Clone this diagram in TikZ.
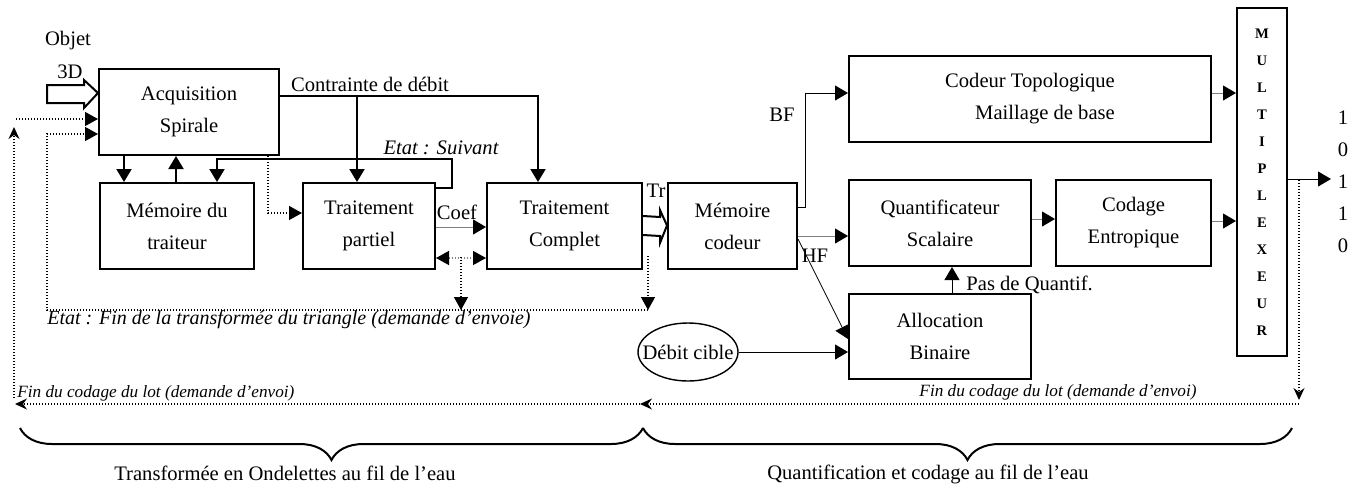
\documentclass[tikz,border=0pt]{standalone}
\usepackage{fontspec}
\setmainfont{Liberation Serif}
\usetikzlibrary{arrows.meta,shapes.geometric,decorations.pathreplacing,calc}
\begin{document}
\begin{tikzpicture}[x=0.5pt,y=-0.5pt,
  every node/.style={font=\fontsize{10.3}{16}\selectfont, inner sep=0pt},
  blk/.style={draw, line width=1pt, align=center, minimum height=43pt},
  thk/.style={line width=1pt, -{Triangle[length=6.5pt,width=7.5pt]}},
  thn/.style={line width=0.5pt, -{Triangle[length=6.5pt,width=7.5pt]}},
  gthn/.style={line width=0.5pt, draw=gray, -{Triangle[length=6.5pt,width=7.5pt,color=black]}},
  dots/.style={line width=0.7pt, dash pattern=on 0.6pt off 0.9pt},
  ttip/.style={-{Triangle[length=6.5pt,width=7pt]}},
  stip/.style={-{Stealth[length=6pt,width=5.5pt,inset=2pt]}},
  ilbl/.style={font=\fontsize{8.6}{10}\selectfont\itshape},
]
\useasboundingbox (0,0) rectangle (1362,488);

% blocks
\node[blk, minimum width=90pt] (acq) at (189,112) {Acquisition\\Spirale};
\node[blk, minimum width=77pt] (mem) at (177,226) {Mémoire du\\traiteur};
\node[blk, minimum width=66pt] (tp) at (369,226) {Traitement\\partiel};
\node[blk, minimum width=77.5pt] (tc) at (564.5,226) {Traitement\\Complet};
\node[blk, minimum width=64.5pt] (mc) at (732.5,226) {Mémoire\\codeur};
\node[blk, minimum width=181pt] (ct) at (1030,99) {Codeur Topologique\\\hspace*{15pt}Maillage de base};
\node[blk, minimum width=91pt] (qs) at (940,223) {Quantificateur\\Scalaire};
\node[blk, minimum width=77.5pt] (ce) at (1133.5,223) {Codage\\Entropique};
\node[blk, minimum width=91pt, minimum height=42.5pt] (ab) at (940,336.5) {Allocation\\Binaire};
\node[blk, minimum width=25pt, minimum height=174pt, font=\fontsize{7.3}{13.5}\selectfont\bfseries] (mux) at (1262,182) {M\\U\\L\\T\\I\\P\\L\\E\\X\\E\\U\\R};
\node[draw, ellipse, line width=0.7pt, minimum width=50pt, minimum height=29pt] (dc) at (688,352) {};
\node (dct) at (dc.center) {Débit cible};

% free labels
\node (objet) at (68,41) {Objet};
\node (d3) at (70,72) {3D};
\node (contr) at (370,84) {Contrainte de débit};
\node[font=\fontsize{10.3}{12}\selectfont\itshape] (suiv) at (441,148) {Etat : Suivant};
\node (coef) at (457,212) {Coef};
\node (tr) at (656,191) {Tr};
\node (bf) at (782,115) {BF};
\node (hf) at (815,256) {HF};
\node[anchor=west] (pq) at (966,285) {Pas de Quantif.};
\node[align=center] (bits) at (1343,182) {1\\0\\1\\1\\0};
\node[font=\fontsize{10}{12}\selectfont\itshape] (efin) at (289,320) {Etat : Fin de la transformée du triangle (demande d'envoie)};
\node[ilbl, anchor=base west] (fin1) at (17,397) {Fin du codage du lot (demande d'envoi)};
\node[ilbl] (fin2) at (1058,392) {Fin du codage du lot (demande d'envoi)};
\node (tl) at (285,473) {Transformée en Ondelettes au fil de l'eau};
\node (ql) at (928,474) {Quantification et codage au fil de l'eau};

% 3D hollow arrow
\draw[line width=1pt, line join=miter] (47,85) -- (84,85) -- (84,80) -- ($(acq.north west)+(0,25)$) -- (84,108) -- (84,103) -- (47,103) -- cycle;

% Tr hollow arrow
\draw[line width=1pt] ($(tc.north east)+(0,34)$) -- (660,217) -- (660,210) -- ($(mc.north west)+(0,43.5)$) -- (660,243) -- (660,236) -- ($(tc.north east)+(0,53)$);

% acquisition <-> memoire
\coordinate (a1) at ($(acq.south west)+(26,0)$);
\coordinate (a2) at ($(acq.south west)+(78,0)$);
\draw[thk] (a1) -- (a1 |- mem.north);
\draw[thk] (a2 |- mem.north) -- (a2);

% contrainte de debit
\coordinate (k0) at ($(acq.north east)+(0,28)$);
\coordinate (k1) at ($(tc.north west)+(52,0)$);
\coordinate (k2) at ($(tp.north west)+(55,0)$);
\draw[thk] (k0) -| (k1);
\draw[thk] (k2 |- k0) -- (k2);

% loop Etat : Suivant
\coordinate (l0) at ($(tp.north east)+(0,6)$);
\coordinate (l1) at ($(mem.north west)+(118,0)$);
\draw[thk] (l0) -- ++(16,0) -- ++(0,-29) -| (l1);

% dotted acq -> traitement partiel
\coordinate (d0) at ($(acq.south east)+(-12,0)$);
\draw[dots, ttip] (d0) |- ($(tp.north west)+(0,31)$);

% coef
\draw[gthn] ($(tp.north east)+(0,45)$) -- ($(tc.north west)+(0,45)$);
% double dotted
\draw[dots, draw=gray, {Triangle[length=6.5pt,width=7pt,color=black]}-{Triangle[length=6.5pt,width=7pt,color=black]}] ($(tp.south east)+(0,-12)$) -- ($(tc.south west)+(0,-12)$);

% dotted loop back to acquisition
\coordinate (p461) at (461,257);
\coordinate (b461) at (461,310);
\coordinate (p648) at (648,256);
\coordinate (b648) at (648,310);
\coordinate (bl) at (47,310);
\draw[dots, ttip] (p461) -- (b461);
\draw[dots, ttip] (p648) -- (b648);
\draw[dots, ttip] (b648) -- (bl) |- ($(acq.south west)+(0,-22)$);

% outer left dotted
\coordinate (f1) at (16,119);
\draw[dots, ttip] (f1) -- (f1 -| acq.west);
\coordinate (ol0) at (14,398);
\coordinate (ol1) at (14,127);
\draw[dots, stip] (ol0) -- (ol1);

% right side
\draw[thn] ($(mc.north east)+(0,25)$) -- ++(7,0) |- ($(ct.north west)+(0,38)$);
\draw[gthn] ($(mc.north east)+(0,54)$) -- ($(qs.north west)+(0,57)$);
\draw[line width=0.4pt, -{Triangle[length=6.5pt,width=7.5pt]}] ($(mc.north east)+(0,57)$) -- ($(ab.north west)+(0,46)$);
\draw[thn] (dc.east) -- (dc.east -| ab.west);
\draw[thn] ($(ab.north west)+(104,0)$) -- ($(qs.south west)+(104,0)$);
\draw[gthn] ($(qs.north east)+(0,40)$) -- ($(ce.north west)+(0,40)$);
\coordinate (m1) at ($(ct.north east)+(0,38)$);
\coordinate (m2) at ($(ce.north east)+(0,42)$);
\draw[gthn] (m1) -- (m1 -| mux.west);
\draw[gthn] (m2) -- (m2 -| mux.west);
\coordinate (o0) at ($(mux.north east)+(0,172)$);
\coordinate (o1) at ($(o0)+(43,0)$);
\draw[thn] (o0) -- (o1);

% bottom dotted return
\coordinate (r1) at (1299,180);
\coordinate (r2) at (1299,400);
\coordinate (r3) at (1299,404);
\coordinate (m3) at (640,404);
\coordinate (l3) at (15,404);
\draw[dots, stip] (r1) -- (r2);
\draw[dots, stip] (r3) -- (m3);
\draw[dots, stip] (m3) -- (l3);

% braces
\coordinate (bA) at (20,428);
\coordinate (bB) at (643,428);
\coordinate (bC) at (1292,428);
\draw[line width=1pt, decorate, decoration={brace, mirror, amplitude=16pt}] (bA) -- (bB);
\draw[line width=1pt, decorate, decoration={brace, mirror, amplitude=16pt}] (bB) -- (bC);
\end{tikzpicture}
\end{document}
